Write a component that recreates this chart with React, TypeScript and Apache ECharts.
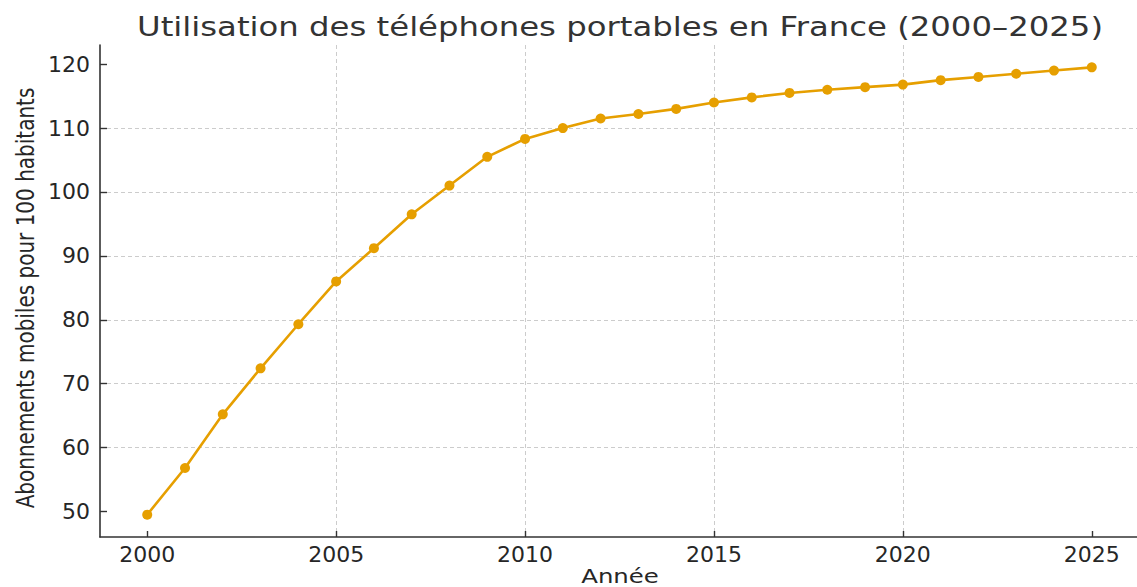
import React, { useEffect, useRef } from "react";
import * as echarts from "echarts";

const years: number[] = [
  2000, 2001, 2002, 2003, 2004, 2005, 2006, 2007, 2008, 2009, 2010, 2011, 2012,
  2013, 2014, 2015, 2016, 2017, 2018, 2019, 2020, 2021, 2022, 2023, 2024, 2025,
];
const subscriptions: number[] = [
  49.5, 56.8, 65.2, 72.4, 79.3, 86.0, 91.2, 96.5, 101.0, 105.5, 108.3, 110.0,
  111.5, 112.2, 113.0, 114.0, 114.8, 115.5, 116.0, 116.4, 116.8, 117.5, 118.0,
  118.5, 119.0, 119.5,
];
const xTicks: number[] = [2000, 2005, 2010, 2015, 2020, 2025];
const yTicks: number[] = [50, 60, 70, 80, 90, 100, 110, 120];

const titleText = "Utilisation des téléphones portables en France (2000–2025)";
const xName = "Année";
const yName = "Abonnements mobiles pour 100 habitants";

export default function App() {
  const ref = useRef<HTMLDivElement>(null);
  useEffect(() => {
    if (!ref.current) return;
    const chart = echarts.init(ref.current, undefined, { renderer: "svg" });
    const font = "DejaVu Sans";
    chart.setOption({
      animation: false,
      backgroundColor: "#ffffff",
      textStyle: { fontFamily: font },
      graphic: [
        {
          type: "text",
          x: 620,
          y: 27,
          scaleX: 1.22,
          style: {
            text: titleText,
            fontSize: 26.5,
            fontFamily: font,
            fill: "#333333",
            align: "center",
            verticalAlign: "middle",
          },
        },
        {
          type: "text",
          x: 25,
          y: 298,
          rotation: Math.PI / 2,
          scaleY: 1.22,
          style: {
            text: yName,
            fontSize: 20,
            fontFamily: font,
            fill: "#262626",
            align: "center",
            verticalAlign: "middle",
          },
        },
        {
          type: "text",
          x: 620,
          y: 576,
          scaleX: 1.22,
          style: {
            text: xName,
            fontSize: 20,
            fontFamily: font,
            fill: "#262626",
            align: "center",
            verticalAlign: "middle",
          },
        },
      ],
      grid: {
        left: 100,
        top: 45,
        width: 1039,
        height: 492,
        containLabel: false,
        outerBoundsMode: "none",
      },
      xAxis: {
        type: "value",
        min: 1998.75,
        max: 2026.25,
        splitNumber: 5,
        axisLine: { show: true, onZero: false, lineStyle: { color: "#333333", width: 1.6 } },
        axisTick: {
          show: true,
          inside: true,
          length: 6,
          customValues: xTicks,
          lineStyle: { color: "#333333", width: 1.4 },
        },
        axisLabel: {
          customValues: xTicks,
          fontSize: 22,
          color: "#262626",
          margin: 6,
          fontFamily: font,
          formatter: (v: number) => String(v),
        },
        splitLine: {
          show: true,
          showMinLine: false,
          showMaxLine: false,
          lineStyle: { color: "#cccccc", width: 1, type: [4, 3] },
        },
      },
      yAxis: {
        type: "value",
        min: 46,
        max: 123,
        splitNumber: 8,
        axisLine: { show: true, onZero: false, lineStyle: { color: "#333333", width: 1.6 } },
        axisTick: {
          show: true,
          inside: true,
          length: 7,
          customValues: yTicks,
          lineStyle: { color: "#333333", width: 1.4 },
        },
        axisLabel: {
          customValues: yTicks,
          fontSize: 22,
          color: "#262626",
          margin: 10,
          fontFamily: font,
        },
        splitLine: {
          show: true,
          showMinLine: false,
          showMaxLine: false,
          lineStyle: { color: "#cccccc", width: 1, type: [4, 3] },
        },
      },
      series: [
        {
          type: "line",
          data: years.map((y, i) => [y, subscriptions[i]]),
          color: "#E69F00",
          lineStyle: { color: "#E69F00", width: 2.6 },
          itemStyle: { color: "#E69F00" },
          symbol: "circle",
          symbolSize: 10,
          showSymbol: true,
        },
      ],
    });
    return () => chart.dispose();
  }, []);
  return (
    <div
      ref={ref}
      style={{ position: "fixed", left: 0, top: 0, width: 1137, height: 587 }}
    />
  );
}
